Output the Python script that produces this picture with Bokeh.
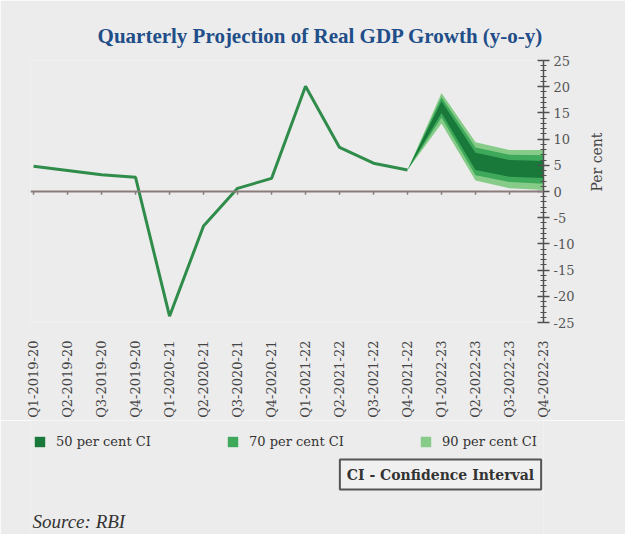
from math import pi
from bokeh.plotting import figure
from bokeh.layouts import column
from bokeh.models import (Range1d, FixedTicker, Span, Legend, LegendItem, Title, Label)
from bokeh.embed import file_html
from bokeh.resources import INLINE

# ---------------- data ----------------
quarters = ["Q1-2019-20", "Q2-2019-20", "Q3-2019-20", "Q4-2019-20",
            "Q1-2020-21", "Q2-2020-21", "Q3-2020-21", "Q4-2020-21",
            "Q1-2021-22", "Q2-2021-22", "Q3-2021-22", "Q4-2021-22",
            "Q1-2022-23", "Q2-2022-23", "Q3-2022-23", "Q4-2022-23"]
actual_growth = [4.8, 4.0, 3.2, 2.7, -23.8, -6.6, 0.6, 2.5,
                 20.1, 8.4, 5.4, 4.1]
fan_quarters = ["Q4-2021-22", "Q1-2022-23", "Q2-2022-23", "Q3-2022-23", "Q4-2022-23"]
ci50_low = [4.1, 15.0, 4.1, 2.8, 2.6]
ci50_high = [4.1, 17.2, 7.4, 6.0, 5.8]
ci70_low = [4.1, 14.1, 3.1, 1.8, 1.5]
ci70_high = [4.1, 18.0, 8.4, 7.0, 6.9]
ci90_low = [4.1, 13.0, 2.1, 0.6, 0.3]
ci90_high = [4.1, 18.8, 9.4, 7.9, 7.9]
y_ticks = [-25, -20, -15, -10, -5, 0, 5, 10, 15, 20, 25]
y_tick_labels = ["-25", "-20", "-15", "-10", "-5", "0", "5", "10", "15", "20", "25"]
legend_labels = ["50 per cent CI", "70 per cent CI", "90 per cent CI"]

# ---------------- styling ----------------
BG = "#ececec"
LINE_GREEN = "#2f8c4a"
C50, C70, C90 = "#18793a", "#3ea95a", "#86cc88"
AXIS_GREY = "#505050"
SERIF = "DejaVu Serif"
W = 625

x_hist = list(range(len(actual_growth)))
x_fan = [quarters.index(q) for q in fan_quarters]
x_all = list(range(len(quarters)))

# ================= main chart =================
p = figure(width=W, height=420, output_backend="svg", toolbar_location=None,
           x_range=Range1d(-0.09, len(quarters) - 1), y_range=Range1d(-25, 25),
           y_axis_location="right", min_border_left=30, min_border_right=82,
           min_border_top=60, min_border_bottom=98)
p.border_fill_color = BG
p.background_fill_color = BG
p.outline_line_color = None
p.xgrid.grid_line_color = None
p.ygrid.grid_line_color = None

# fan chart bands
p.varea(x=x_fan, y1=ci90_low, y2=ci90_high, fill_color=C90)
p.varea(x=x_fan, y1=ci70_low, y2=ci70_high, fill_color=C70)
p.varea(x=x_fan, y1=ci50_low, y2=ci50_high, fill_color=C50)

# zero line with small category ticks
p.add_layout(Span(location=0, dimension="width", line_color="#8a7c7a", line_width=2))
p.segment(x0=x_all, y0=[0] * len(x_all), x1=x_all, y1=[-0.6] * len(x_all),
          line_color="#8a7c7a", line_width=1.5)

# actual growth line
p.line(x=x_hist, y=actual_growth, line_color=LINE_GREEN, line_width=3)

# title
p.add_layout(Title(text="Quarterly Projection of Real GDP Growth (y-o-y)",
                   align="right", offset=0, standoff=26,
                   text_font="Liberation Serif", text_font_style="bold",
                   text_font_size="21px", text_color="#1f4e89"), "above")

# x axis (labels only)
xa = p.xaxis[0]
xa.ticker = FixedTicker(ticks=x_all)
xa.major_label_overrides = {i: q for i, q in enumerate(quarters)}
xa.major_label_orientation = pi / 2
xa.axis_line_color = None
xa.major_tick_line_color = None
xa.minor_tick_line_color = None
xa.major_label_standoff = 12
xa.major_label_text_font = SERIF
xa.major_label_text_font_size = "13px"
xa.major_label_text_color = "#444444"

# y axis on the right
ya = p.yaxis[0]
ya.ticker = FixedTicker(ticks=y_ticks, minor_ticks=list(range(-25, 26)))
ya.major_label_overrides = {t: s for t, s in zip(y_ticks, y_tick_labels)}
ya.axis_line_color = AXIS_GREY
ya.axis_line_width = 1.5
ya.major_tick_line_color = AXIS_GREY
ya.major_tick_line_width = 1.5
ya.major_tick_in = 6
ya.major_tick_out = 6
ya.minor_tick_line_color = AXIS_GREY
ya.minor_tick_in = 3
ya.minor_tick_out = 3
ya.major_label_standoff = 4
ya.major_label_text_font = SERIF
ya.major_label_text_font_size = "13px"
ya.major_label_text_color = "#555555"
ya.axis_label = "Per cent"
ya.axis_label_orientation = pi / 2
ya.axis_label_standoff = 20
ya.axis_label_text_font = SERIF
ya.axis_label_text_font_style = "normal"
ya.axis_label_text_font_size = "14px"
ya.axis_label_text_color = "#444444"

# ================= footer: legend, note, source =================
# x in page pixels (frame is aligned with the chart frame), y downward from footer top
q = figure(width=W, height=114, output_backend="svg", toolbar_location=None,
           x_range=Range1d(30, 543), y_range=Range1d(114, 0),
           x_axis_location=None, y_axis_location=None,
           min_border_left=0, min_border_right=0, min_border_top=0, min_border_bottom=0)
q.border_fill_color = BG
q.background_fill_color = BG
q.outline_line_color = None
q.xgrid.grid_line_color = None
q.ygrid.grid_line_color = None

# colour carriers for the legend swatches (their data lies outside this panel's view)
s50 = q.varea(x=x_fan, y1=ci50_low, y2=ci50_high, fill_color=C50)
s70 = q.varea(x=x_fan, y1=ci70_low, y2=ci70_high, fill_color=C70)
s90 = q.varea(x=x_fan, y1=ci90_low, y2=ci90_high, fill_color=C90)
legend = Legend(items=[LegendItem(label=legend_labels[0], renderers=[s50]),
                       LegendItem(label=legend_labels[1], renderers=[s70]),
                       LegendItem(label=legend_labels[2], renderers=[s90])],
                orientation="horizontal", location=(3, 85),
                glyph_width=13, glyph_height=13, label_standoff=10,
                label_width=95, label_height=13, spacing=75, padding=0, margin=0,
                label_text_font=SERIF, label_text_font_size="13px",
                label_text_color="#333333",
                background_fill_alpha=0, border_line_alpha=0)
q.add_layout(legend, "center")

q.add_layout(Label(x=440, y=54, text="CI - Confidence Interval", text_font=SERIF,
                   text_font_style="bold", text_font_size="14px",
                   text_color="#333333", text_align="center", text_baseline="middle",
                   padding=7, border_line_color="#555555", border_line_width=2,
                   background_fill_color="#f0f0f0"))

q.add_layout(Label(x=32, y=101, text="Source: RBI", text_font="Liberation Serif",
                   text_font_style="italic", text_font_size="19px",
                   text_color="#333333", text_align="left",
                   text_baseline="alphabetic"))

open("out.html", "w").write(file_html(column(p, q), INLINE))
